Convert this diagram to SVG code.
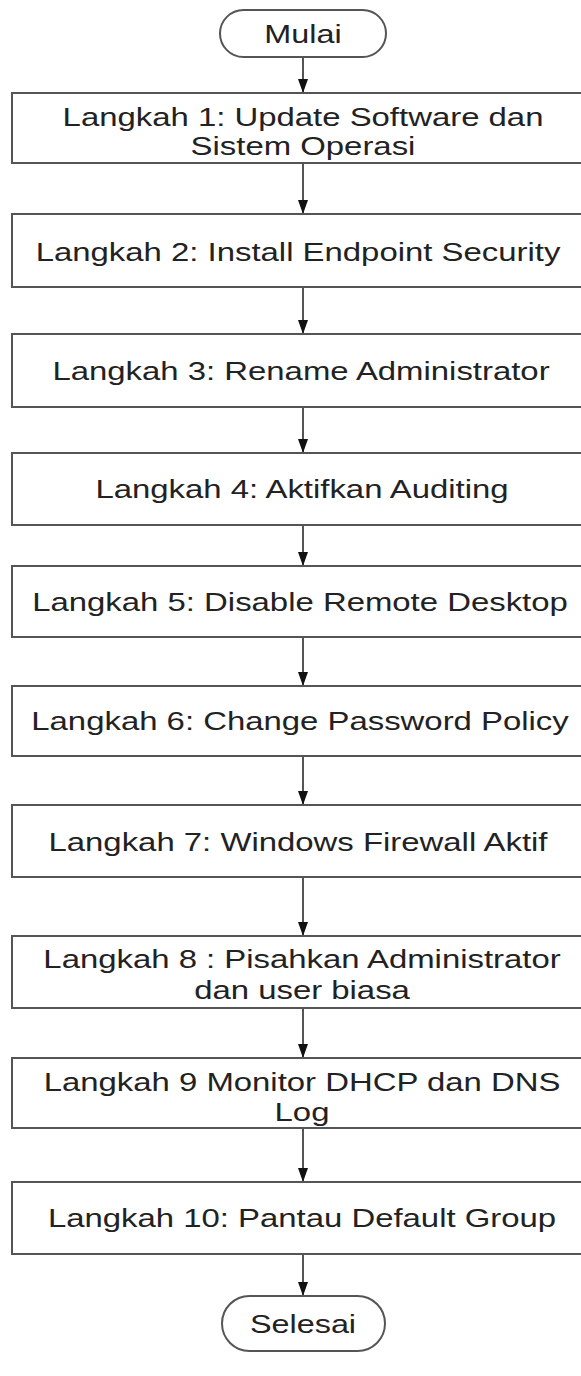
<svg xmlns="http://www.w3.org/2000/svg" width="581" height="1376" viewBox="0 0 581 1376">
  <style>
    .box { fill: #ffffff; stroke: #555555; stroke-width: 2; }
    .term { fill: #ffffff; stroke: #555555; stroke-width: 2; }
    .lbl { font-family: "Liberation Sans", Arial, sans-serif; font-size: 25.5px; fill: #222222; text-anchor: middle; }
    .flow { stroke: #555555; stroke-width: 2; fill: none; marker-end: url(#arrow); }
  </style>
  <defs>
    <!-- narrow solid arrowhead, tip at the end of the line -->
    <marker id="arrow" markerUnits="userSpaceOnUse" viewBox="0 0 14 10" refX="14" refY="5" markerWidth="14" markerHeight="10" orient="auto">
      <path d="M0,0 L14,5 L0,10 Z" fill="#111111"/>
    </marker>
  </defs>
  <rect width="581" height="1376" fill="#ffffff"/>

  <!-- connectors -->
  <g id="connectors">
    <line class="flow" x1="303" y1="57" x2="303" y2="93"/>
    <line class="flow" x1="303" y1="164" x2="303" y2="214"/>
    <line class="flow" x1="303" y1="288" x2="303" y2="334"/>
    <line class="flow" x1="303" y1="408" x2="303" y2="453"/>
    <line class="flow" x1="303" y1="526" x2="303" y2="566"/>
    <line class="flow" x1="303" y1="638" x2="303" y2="686"/>
    <line class="flow" x1="303" y1="757" x2="303" y2="805"/>
    <line class="flow" x1="303" y1="878" x2="303" y2="936"/>
    <line class="flow" x1="303" y1="1009" x2="303" y2="1058"/>
    <line class="flow" x1="303" y1="1129" x2="303" y2="1182"/>
    <line class="flow" x1="303" y1="1255" x2="303" y2="1296"/>
  </g>

  <!-- start terminal -->
  <g id="mulai">
    <rect class="term" x="220" y="10" width="166" height="47" rx="23.5"/>
    <text class="lbl" transform="translate(303,43) scale(1.27,1)">Mulai</text>
  </g>

  <g id="step1">
    <rect class="box" x="12" y="93" width="585" height="70"/>
    <text class="lbl" transform="translate(303,126) scale(1.29,1)">Langkah 1: Update Software dan</text>
    <text class="lbl" transform="translate(303,155) scale(1.29,1)">Sistem Operasi</text>
  </g>

  <g id="step2">
    <rect class="box" x="12" y="214" width="585" height="73"/>
    <text class="lbl" transform="translate(298,261) scale(1.29,1)">Langkah 2: Install Endpoint Security</text>
  </g>

  <g id="step3">
    <rect class="box" x="12" y="334" width="585" height="73"/>
    <text class="lbl" transform="translate(301,380) scale(1.29,1)">Langkah 3: Rename Administrator</text>
  </g>

  <g id="step4">
    <rect class="box" x="12" y="453" width="585" height="72"/>
    <text class="lbl" transform="translate(302,498) scale(1.29,1)">Langkah 4: Aktifkan Auditing</text>
  </g>

  <g id="step5">
    <rect class="box" x="12" y="566" width="585" height="71"/>
    <text class="lbl" transform="translate(300,611) scale(1.29,1)">Langkah 5: Disable Remote Desktop</text>
  </g>

  <g id="step6">
    <rect class="box" x="12" y="686" width="585" height="70"/>
    <text class="lbl" transform="translate(300,730) scale(1.29,1)">Langkah 6: Change Password Policy</text>
  </g>

  <g id="step7">
    <rect class="box" x="12" y="805" width="585" height="72"/>
    <text class="lbl" transform="translate(298,851) scale(1.29,1)">Langkah 7: Windows Firewall Aktif</text>
  </g>

  <g id="step8">
    <rect class="box" x="12" y="936" width="585" height="72"/>
    <text class="lbl" transform="translate(302,968) scale(1.29,1)">Langkah 8 : Pisahkan Administrator</text>
    <text class="lbl" transform="translate(302,999) scale(1.29,1)">dan user biasa</text>
  </g>

  <g id="step9">
    <rect class="box" x="12" y="1058" width="585" height="70"/>
    <text class="lbl" transform="translate(302,1091) scale(1.29,1)">Langkah 9 Monitor DHCP dan DNS</text>
    <text class="lbl" transform="translate(302,1121) scale(1.29,1)">Log</text>
  </g>

  <g id="step10">
    <rect class="box" x="12" y="1182" width="585" height="72"/>
    <text class="lbl" transform="translate(302,1227) scale(1.29,1)">Langkah 10: Pantau Default Group</text>
  </g>

  <!-- end terminal -->
  <g id="selesai">
    <rect class="term" x="222" y="1296" width="163" height="55" rx="27.5"/>
    <text class="lbl" transform="translate(303,1333) scale(1.27,1)">Selesai</text>
  </g>
</svg>
